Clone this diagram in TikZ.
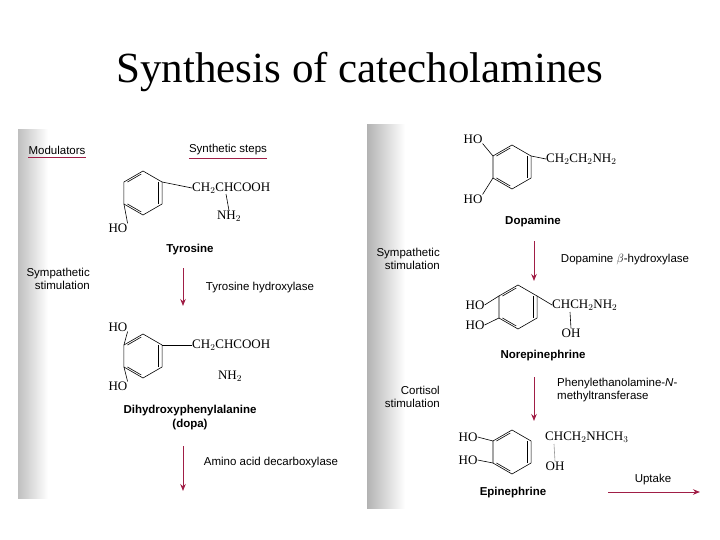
\documentclass[tikz,border=0pt]{standalone}
\usepackage{fontspec}
\setmainfont{Liberation Serif}
\setsansfont{Liberation Sans}
\usetikzlibrary{calc,arrows.meta}
\definecolor{arrred}{RGB}{160,30,70}
\begin{document}
\begin{tikzpicture}[x=1pt,y=-1pt,
  lab/.style={font=\sffamily\fontsize{11.5}{13.5}\selectfont,inner sep=0pt},
  cname/.style={font=\sffamily\bfseries\fontsize{11.5}{14}\selectfont,inner sep=0pt,align=center},
  chem/.style={font=\fontsize{13}{14}\selectfont,inner sep=0pt},
  rarr/.style={draw=arrred,line width=1pt,-{Stealth[length=7pt,width=5.5pt]}},
  bond/.style={line width=0.6pt},
  pics/benz/.style={code={
    \draw[bond] (-90:22) -- (-30:22) -- (30:22) -- (90:22) -- (150:22) -- (-150:22) -- cycle;
    \draw[bond] ($(-30:22)+(180:3.5)$) -- ($(30:22)+(180:3.5)$);
    \draw[bond] ($(90:22)+(-120:3.5)$) -- ($(150:22)+(0:3.5)$);
    \draw[bond] ($(-150:22)+(0:3.5)$) -- ($(-90:22)+(120:3.5)$);
  }}]
\useasboundingbox (0,0) rectangle (720,540);
\fill[white] (0,0) rectangle (720,540);
\node[font=\fontsize{43}{48}\selectfont] (title) at (360,72) {Synthesis of catecholamines};
% panels
\shade[left color=black!25,right color=white] (18,130) rectangle (48,498);
\shade[left color=black!30,right color=white] (367,125) rectangle (405,508);
% ---- left panel
\node[lab] (mod) at (57,150) {Modulators};
\draw[arrred,line width=0.8pt] ($(mod.south west)+(0,2.5)$) -- ($(mod.south east)+(0,2.5)$);
\node[lab] (syn) at (228,150) {Synthetic steps};
\draw[arrred,line width=0.8pt] ($(syn.south west)+(0,2.5)$) -- ($(syn.south east)+(0,2.5)$);
% tyrosine
\pic at (143,193) {benz};
\node[chem,anchor=west] (tyr1) at (192,188) {CH$_2$CHCOOH};
\draw[bond] ($(143,193)+(-30:22)$) -- (tyr1.west);
\node[chem] (tyr2) at (229,216) {NH$_2$};
\draw[bond] (226,194) -- (tyr2.north);
\node[chem] (tyr3) at (118,228) {HO};
\draw[bond] ($(143,193)+(150:22)$) -- (tyr3.north east);
\node[cname] (tyrn) at (190,250) {Tyrosine};
\node[lab,align=right,anchor=east] (symp1) at (90,279) {Sympathetic\\stimulation};
\coordinate (a1s) at (183,268); \coordinate (a1e) at (183,306);
\draw[rarr] (a1s) -- (a1e);
\node[lab] (enz1) at (260,288) {Tyrosine hydroxylase};
% dopa
\pic at (143,356) {benz};
\node[chem] (dopa1) at (118,327) {HO};
\node[chem] (dopa2) at (118,386) {HO};
\draw[bond] ($(143,356)+(-150:22)$) -- (dopa1.south east);
\draw[bond] ($(143,356)+(150:22)$) -- (dopa2.north east);
\node[chem,anchor=west] (dopa3) at (192,345) {CH$_2$CHCOOH};
\draw[bond] ($(143,356)+(-30:22)$) -- (dopa3.west);
\node[chem] (dopa4) at (230,376) {NH$_2$};
\node[cname] (dopan) at (190,418) {Dihydroxyphenylalanine\\(dopa)};
\coordinate (a2s) at (183,446); \coordinate (a2e) at (183,491);
\draw[rarr] (a2s) -- (a2e);
\node[lab] (enz2) at (271,463) {Amino acid decarboxylase};
% ---- right panel
\pic at (512,167) {benz};
\node[chem] (da1) at (473,139) {HO};
\node[chem] (da2) at (473,199) {HO};
\draw[bond] ($(512,167)+(-150:22)$) -- (da1.south east);
\draw[bond] ($(512,167)+(150:22)$) -- (da2.north east);
\node[chem,anchor=west] (da3) at (546,159) {CH$_2$CH$_2$NH$_2$};
\draw[bond] ($(512,167)+(-30:22)$) -- (da3.west);
\node[cname] (dan) at (533,222) {Dopamine};
\node[lab,align=right,anchor=east] (symp2) at (440,259) {Sympathetic\\stimulation};
\coordinate (a3s) at (534,241); \coordinate (a3e) at (534,281);
\draw[rarr] (a3s) -- (a3e);
\node[lab] (enz3) at (625,260) {Dopamine $\beta$-hydroxylase};
% norepinephrine
\pic at (518,307) {benz};
\node[chem] (ne1) at (475,305) {HO};
\node[chem] (ne2) at (475,325) {HO};
\draw[bond] (ne1.east) -- ($(518,307)+(-150:22)$);
\draw[bond] (ne2.east) -- ($(518,307)+(150:22)$);
\node[chem,anchor=west] (ne3) at (552,305) {CHCH$_2$NH$_2$};
\draw[bond] ($(518,307)+(-30:22)$) -- (ne3.west);
\node[chem] (ne4) at (571,333) {OH};
\draw[bond] (570,312) -- (ne4.north);
\node[cname] (nen) at (543,356) {Norepinephrine};
\coordinate (a4s) at (534,377); \coordinate (a4e) at (534,421);
\draw[rarr] (a4s) -- (a4e);
\node[lab,align=left,anchor=west] (enz4) at (557,390) {Phenylethanolamine-\textit{N}-\\methyltransferase};
\node[lab,align=right,anchor=east] (cort) at (440,397) {Cortisol\\stimulation};
% epinephrine
\pic at (512,452) {benz};
\node[chem] (ep1) at (468,437) {HO};
\node[chem] (ep2) at (468,460) {HO};
\draw[bond] (ep1.east) -- ($(512,452)+(-150:22)$);
\draw[bond] (ep2.east) -- ($(512,452)+(150:22)$);
\node[chem,anchor=west] (ep3) at (545,437) {CHCH$_2$NHCH$_3$};
\node[chem] (ep4) at (555,466) {OH};
\draw[bond,black!40] (554,444) -- (ep4.north);
\node[cname] (epn) at (513,493) {Epinephrine};
\coordinate (a5s) at (608,492); \coordinate (a5e) at (700,492);
\draw[rarr] (a5s) -- (a5e);
\node[lab] (upt) at (653,480) {Uptake};
\end{tikzpicture}
\end{document}
